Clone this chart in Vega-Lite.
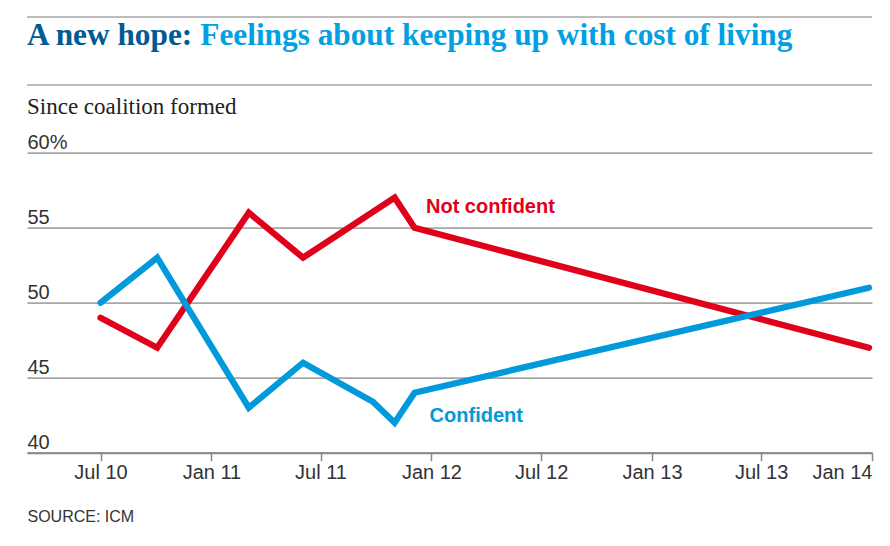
{
  "$schema": "https://vega.github.io/schema/vega-lite/v6.json",
  "width": 845,
  "height": 300,
  "autosize": "none",
  "padding": {"left": 27, "top": 152.7, "right": 18, "bottom": 93.3},
  "background": "white",
  "config": {"view": {"stroke": null}},
  "title": {
    "text": "A new hope:",
    "subtitle": "Since coalition formed",
    "anchor": "start",
    "frame": "group",
    "baseline": "top",
    "font": "Liberation Serif",
    "fontSize": 31.3,
    "fontWeight": "bold",
    "color": "#005a96",
    "subtitleFont": "Liberation Serif",
    "subtitleFontSize": 23,
    "subtitleFontWeight": "normal",
    "subtitleColor": "#222222",
    "subtitlePadding": 44.1,
    "offset": 0,
    "dy": 102.6
  },
  "datasets": {
    "poll": [
      {"series": "Not confident", "date": "2010-07-01", "value": 49},
      {"series": "Not confident", "date": "2010-10-03", "value": 47},
      {"series": "Not confident", "date": "2011-03-04", "value": 56},
      {"series": "Not confident", "date": "2011-06-02", "value": 53},
      {"series": "Not confident", "date": "2011-11-01", "value": 57},
      {"series": "Not confident", "date": "2011-12-04", "value": 55},
      {"series": "Not confident", "date": "2013-12-27", "value": 47},
      {"series": "Confident", "date": "2010-07-01", "value": 50},
      {"series": "Confident", "date": "2010-10-03", "value": 53},
      {"series": "Confident", "date": "2011-03-04", "value": 43},
      {"series": "Confident", "date": "2011-06-02", "value": 46},
      {"series": "Confident", "date": "2011-09-26", "value": 43.4},
      {"series": "Confident", "date": "2011-11-01", "value": 42},
      {"series": "Confident", "date": "2011-12-04", "value": 44},
      {"series": "Confident", "date": "2013-12-27", "value": 51}
    ],
    "labels": [
      {"series": "Not confident", "date": "2011-12-23", "value": 56.0},
      {"series": "Confident", "date": "2011-12-29", "value": 42.07}
    ],
    "one": [{}]
  },
  "layer": [
    {
      "data": {"name": "one"},
      "mark": {"type": "rule", "clip": false, "color": "#bdbdbd", "strokeWidth": 2},
      "encoding": {"y": {"datum": 69.05, "type": "quantitative", "scale": {"domain": [40, 60]}}}
    },
    {
      "data": {"name": "one"},
      "mark": {"type": "rule", "clip": false, "color": "#bdbdbd", "strokeWidth": 2},
      "encoding": {"y": {"datum": 64.51, "type": "quantitative", "scale": {"domain": [40, 60]}}}
    },
    {
      "data": {"name": "poll"},
      "mark": {"type": "line", "strokeWidth": 6.3, "strokeCap": "round", "strokeJoin": "miter", "clip": false},
      "encoding": {
        "x": {
          "field": "date",
          "type": "temporal",
          "scale": {"domain": [{"year": 2010, "month": 3, "date": 1}, {"year": 2014, "month": 1, "date": 1}]},
          "axis": {
            "values": [
              {"year": 2010, "month": 7, "date": 1},
              {"year": 2011, "month": 1, "date": 1},
              {"year": 2011, "month": 7, "date": 1},
              {"year": 2012, "month": 1, "date": 1},
              {"year": 2012, "month": 7, "date": 1},
              {"year": 2013, "month": 1, "date": 1},
              {"year": 2013, "month": 7, "date": 1},
              {"year": 2014, "month": 1, "date": 1}
            ],
            "format": "%b %y",
            "grid": false,
            "title": "SOURCE: ICM",
            "titleX": 0,
            "titleY": 69,
            "titleAlign": "left",
            "titleAnchor": "start",
            "titleBaseline": "alphabetic",
            "titleFont": "Liberation Sans",
            "titleFontSize": 16,
            "titleFontWeight": "normal",
            "titleColor": "#333333",
            "labelFont": "Liberation Sans",
            "labelFontSize": 20,
            "labelColor": "#333333",
            "labelPadding": 2,
            "labelBaseline": "top",
            "labelFlush": true,
            "labelOverlap": false,
            "labelBound": false,
            "tickSize": 8,
            "tickColor": "#888888",
            "tickWidth": 1.5,
            "domainColor": "#888888",
            "domainWidth": 2
          }
        },
        "y": {
          "field": "value",
          "type": "quantitative",
          "scale": {"domain": [40, 60]},
          "axis": {
            "values": [40, 45, 50, 55, 60],
            "grid": true,
            "gridColor": "#a6a6a6",
            "gridWidth": 1.8,
            "domain": false,
            "ticks": false,
            "tickSize": 0,
            "labelAlign": "left",
            "labelBaseline": "alphabetic",
            "labelPadding": 0,
            "labelOffset": -4,
            "labelFont": "Liberation Sans",
            "labelFontSize": 20,
            "labelColor": "#333333",
            "labelFlush": false,
            "labelOverlap": false,
            "labelBound": false,
            "labelExpr": "datum.value == 60 ? '60%' : datum.label",
            "title": "Feelings about keeping up with cost of living",
            "titleX": 172.8,
            "titleY": -107.8,
            "titleAngle": 0,
            "titleAlign": "left",
            "titleBaseline": "alphabetic",
            "titleFont": "Liberation Serif",
            "titleFontSize": 31.3,
            "titleFontWeight": "bold",
            "titleColor": "#00a0e2",
            "titleLimit": 0
          }
        },
        "color": {
          "field": "series",
          "type": "nominal",
          "scale": {"domain": ["Not confident", "Confident"], "range": ["#e1001a", "#0099db"]},
          "legend": null
        }
      }
    },
    {
      "data": {"name": "labels"},
      "mark": {"type": "text", "align": "left", "baseline": "alphabetic", "font": "Liberation Sans", "fontSize": 20, "fontWeight": "bold", "clip": false},
      "encoding": {
        "x": {"field": "date", "type": "temporal"},
        "y": {"field": "value", "type": "quantitative", "scale": {"domain": [40, 60]}},
        "text": {"field": "series"},
        "color": {"field": "series", "type": "nominal", "legend": null}
      }
    }
  ]
}
